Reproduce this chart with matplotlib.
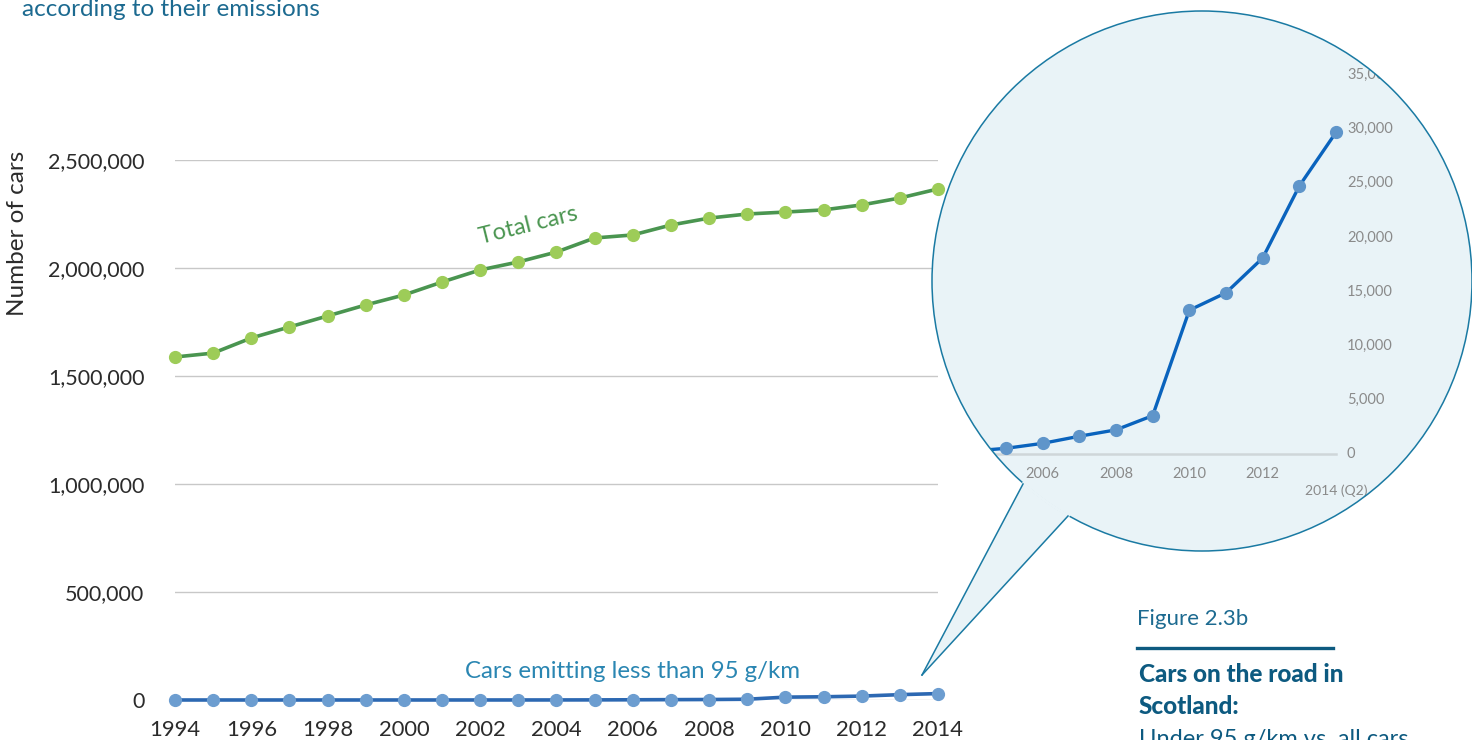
import numpy as np
import matplotlib.pyplot as plt
from matplotlib.patches import Ellipse, Polygon
from matplotlib.lines import Line2D

plt.rcParams['font.family'] = ['Lato', 'DejaVu Sans']

# --- data ---
years = list(range(1994, 2015))
total_cars = [1588000, 1606000, 1676000, 1727000, 1778000, 1829000, 1875000,
              1935000, 1991000, 2028000, 2074000, 2139000, 2153000, 2199000,
              2231000, 2250000, 2259000, 2269000, 2292000, 2324000, 2366000]
low_emission = [50, 50, 60, 60, 70, 80, 90, 100, 120, 150, 250,
                525, 984, 1640, 2230, 3541, 13279, 14885, 18098, 24754, 29705]

main_yticks = [0, 500000, 1000000, 1500000, 2000000, 2500000]
main_xticks = list(range(1994, 2015, 2))
inset_yticks = [0, 5000, 10000, 15000, 20000, 25000, 30000, 35000]
inset_xticks = [2006, 2008, 2010, 2012]
inset_last_label = '2014 (Q2)'

# --- colours ---
TEAL = '#1c6a90'
GREEN_LINE = '#4a9550'
GREEN_DOT = '#9dcc58'
BLUE_LINE = '#2c68b2'
BLUE_DOT = '#6c9dd0'
INSET_LINE = '#0a63bd'
INSET_DOT = '#5f95ca'
BUBBLE = '#e9f3f7'
BUBBLE_EDGE = '#1a7aa3'

W, H = 1472, 740
fig = plt.figure(figsize=(W / 100, H / 100), dpi=100)


def fx(px):
    return px / W


def fy(py):
    return 1 - py / H


# --- main chart ---
ax = fig.add_axes([fx(175), fy(700), (938 - 175) / W, 540 / H])
ax.set_xlim(1994, 2014)
ax.set_ylim(0, 2500000)
for s in ax.spines.values():
    s.set_visible(False)
ax.set_yticks(main_yticks)
ax.set_yticklabels([f'{v:,}' for v in main_yticks])
ax.set_xticks(main_xticks)
ax.set_xticklabels([str(y) for y in main_xticks])
ax.yaxis.grid(True, color='#c8c8c8', lw=1)
ax.set_axisbelow(True)
ax.tick_params(axis='y', length=0, pad=22, labelsize=15.5, labelcolor='#2b2b2b')
ax.tick_params(axis='x', length=0, pad=14.5, labelsize=15.8, labelcolor='#2b2b2b')

ax.plot(years, total_cars, color=GREEN_LINE, lw=2.6, marker='o', ms=8.5,
        mfc=GREEN_DOT, mec=GREEN_DOT, clip_on=False, zorder=3)
ax.plot(years, low_emission, color=BLUE_LINE, lw=2.6, marker='o', ms=8.5,
        mfc=BLUE_DOT, mec=BLUE_DOT, clip_on=False, zorder=3)

ax.text(2003.25, 2195000, 'Total cars', color=GREEN_LINE, fontsize=17,
        rotation=14, ha='center', va='center')
ax.text(2005.98, 130000, 'Cars emitting less than 95 g/km', color='#2a86b2',
        fontsize=17.3, ha='center', va='center')

fig.text(fx(18), fy(233), 'Number of cars', rotation=90, fontsize=17.5,
         color='#2b2b2b', ha='center', va='center')
fig.text(fx(22), fy(10), 'according to their emissions', fontsize=17.5,
         color=TEAL, ha='left', va='center')

# --- speech bubble ---
cx, cy, r = 1202, 281, 270
bubble = Ellipse((fx(cx), fy(cy)), 2 * r / W, 2 * r / H, transform=fig.transFigure,
                 fc=BUBBLE, ec='none', zorder=1)
fig.add_artist(bubble)

tip = np.array([922, 675])
base_l = np.array([1023, 484])
base_r = np.array([1068, 516])
in_l = base_l + (base_l - tip) * 0.08
in_r = base_r + (base_r - tip) * 0.08
tail = Polygon([(fx(p[0]), fy(p[1])) for p in (in_l, in_r, tip)],
               closed=True, transform=fig.transFigure, fc=BUBBLE, ec='none', zorder=1.1)
fig.add_artist(tail)

# --- inset chart (covers bubble's bounding box) ---
x_per_yr = 36.67
y_per_k = 10.83
zero_py = 454
year0_px = 1006


def yr_at(px):
    return 2005 + (px - year0_px) / x_per_yr


def val_at(py):
    return (zero_py - py) / y_per_k * 1000


ax2 = fig.add_axes([fx(cx - r), fy(cy + r), 2 * r / W, 2 * r / H], zorder=2)
ax2.set_facecolor('none')
ax2.axis('off')
ax2.set_xlim(yr_at(cx - r), yr_at(cx + r))
ax2.set_ylim(val_at(cy + r), val_at(cy - r))

zl, = ax2.plot([yr_at(cx - r), 2014], [0, 0], color='#cfd6d9', lw=1.8, zorder=1)
zl.set_clip_path(bubble)
ln, = ax2.plot(years, low_emission, color=INSET_LINE, lw=2.4, marker='o', ms=8.5,
               mfc=INSET_DOT, mec=INSET_DOT, zorder=3)
ln.set_clip_path(bubble)

lab_x = yr_at(1347)
for v in inset_yticks:
    ax2.text(lab_x, v, f'{v:,}', fontsize=10.5, color='#8a8a8a', ha='left', va='center')
for yv in inset_xticks:
    ax2.text(yv, val_at(474), str(yv), fontsize=10.5, color='#8a8a8a',
             ha='center', va='center')
ax2.text(2014, val_at(491), inset_last_label, fontsize=10, color='#8a8a8a',
         ha='center', va='center')

# white mask so labels are cut at the bubble edge (top right)
ang = np.linspace(0.3, np.pi / 2, 60)
arc = [(fx(cx + r * np.cos(a)), fy(cy - r * np.sin(a))) for a in ang]
mask_pts = arc + [(fx(cx), 1.01), (1.01, 1.01), (1.01, fy(cy - r * np.sin(0.3)))]
fig.add_artist(Polygon(mask_pts, closed=True, transform=fig.transFigure,
                       fc='white', ec='none', zorder=3))

# bubble outline
outline = Ellipse((fx(cx), fy(cy)), 2 * r / W, 2 * r / H, transform=fig.transFigure,
                  fc='none', ec=BUBBLE_EDGE, lw=1.1, zorder=4)
fig.add_artist(outline)
# cover the arc where the tail joins
gap = np.linspace(np.arctan2(-(base_l[1] - cy), base_l[0] - cx),
                  np.arctan2(-(base_r[1] - cy), base_r[0] - cx), 20)
fig.add_artist(Line2D([fx(cx + r * np.cos(a)) for a in gap],
                      [fy(cy - r * np.sin(a)) for a in gap],
                      transform=fig.transFigure, color=BUBBLE, lw=2.2, zorder=4.1))
for b in (base_l, base_r):
    fig.add_artist(Line2D([fx(b[0]), fx(tip[0])], [fy(b[1]), fy(tip[1])],
                          transform=fig.transFigure, color=BUBBLE_EDGE, lw=1.1, zorder=4.2))

# --- caption on the right ---
fig.text(fx(1137), fy(619), 'Figure 2.3b', fontsize=16, color=TEAL, ha='left', va='center')
fig.add_artist(Line2D([fx(1137), fx(1333)], [fy(648), fy(648)], transform=fig.transFigure,
                      color='#0d5a80', lw=2.4))
fig.text(fx(1139), fy(675), 'Cars on the road in', fontsize=17.5, fontweight='black',
         color='#0d5a80', ha='left', va='center')
fig.text(fx(1139), fy(706), 'Scotland:', fontsize=17.5, fontweight='black',
         color='#0d5a80', ha='left', va='center')
fig.text(fx(1139), fy(740), 'Under 95 g/km vs. all cars', fontsize=17,
         color='#0d5a80', ha='left', va='center')

fig.savefig('out.png', dpi=100)
